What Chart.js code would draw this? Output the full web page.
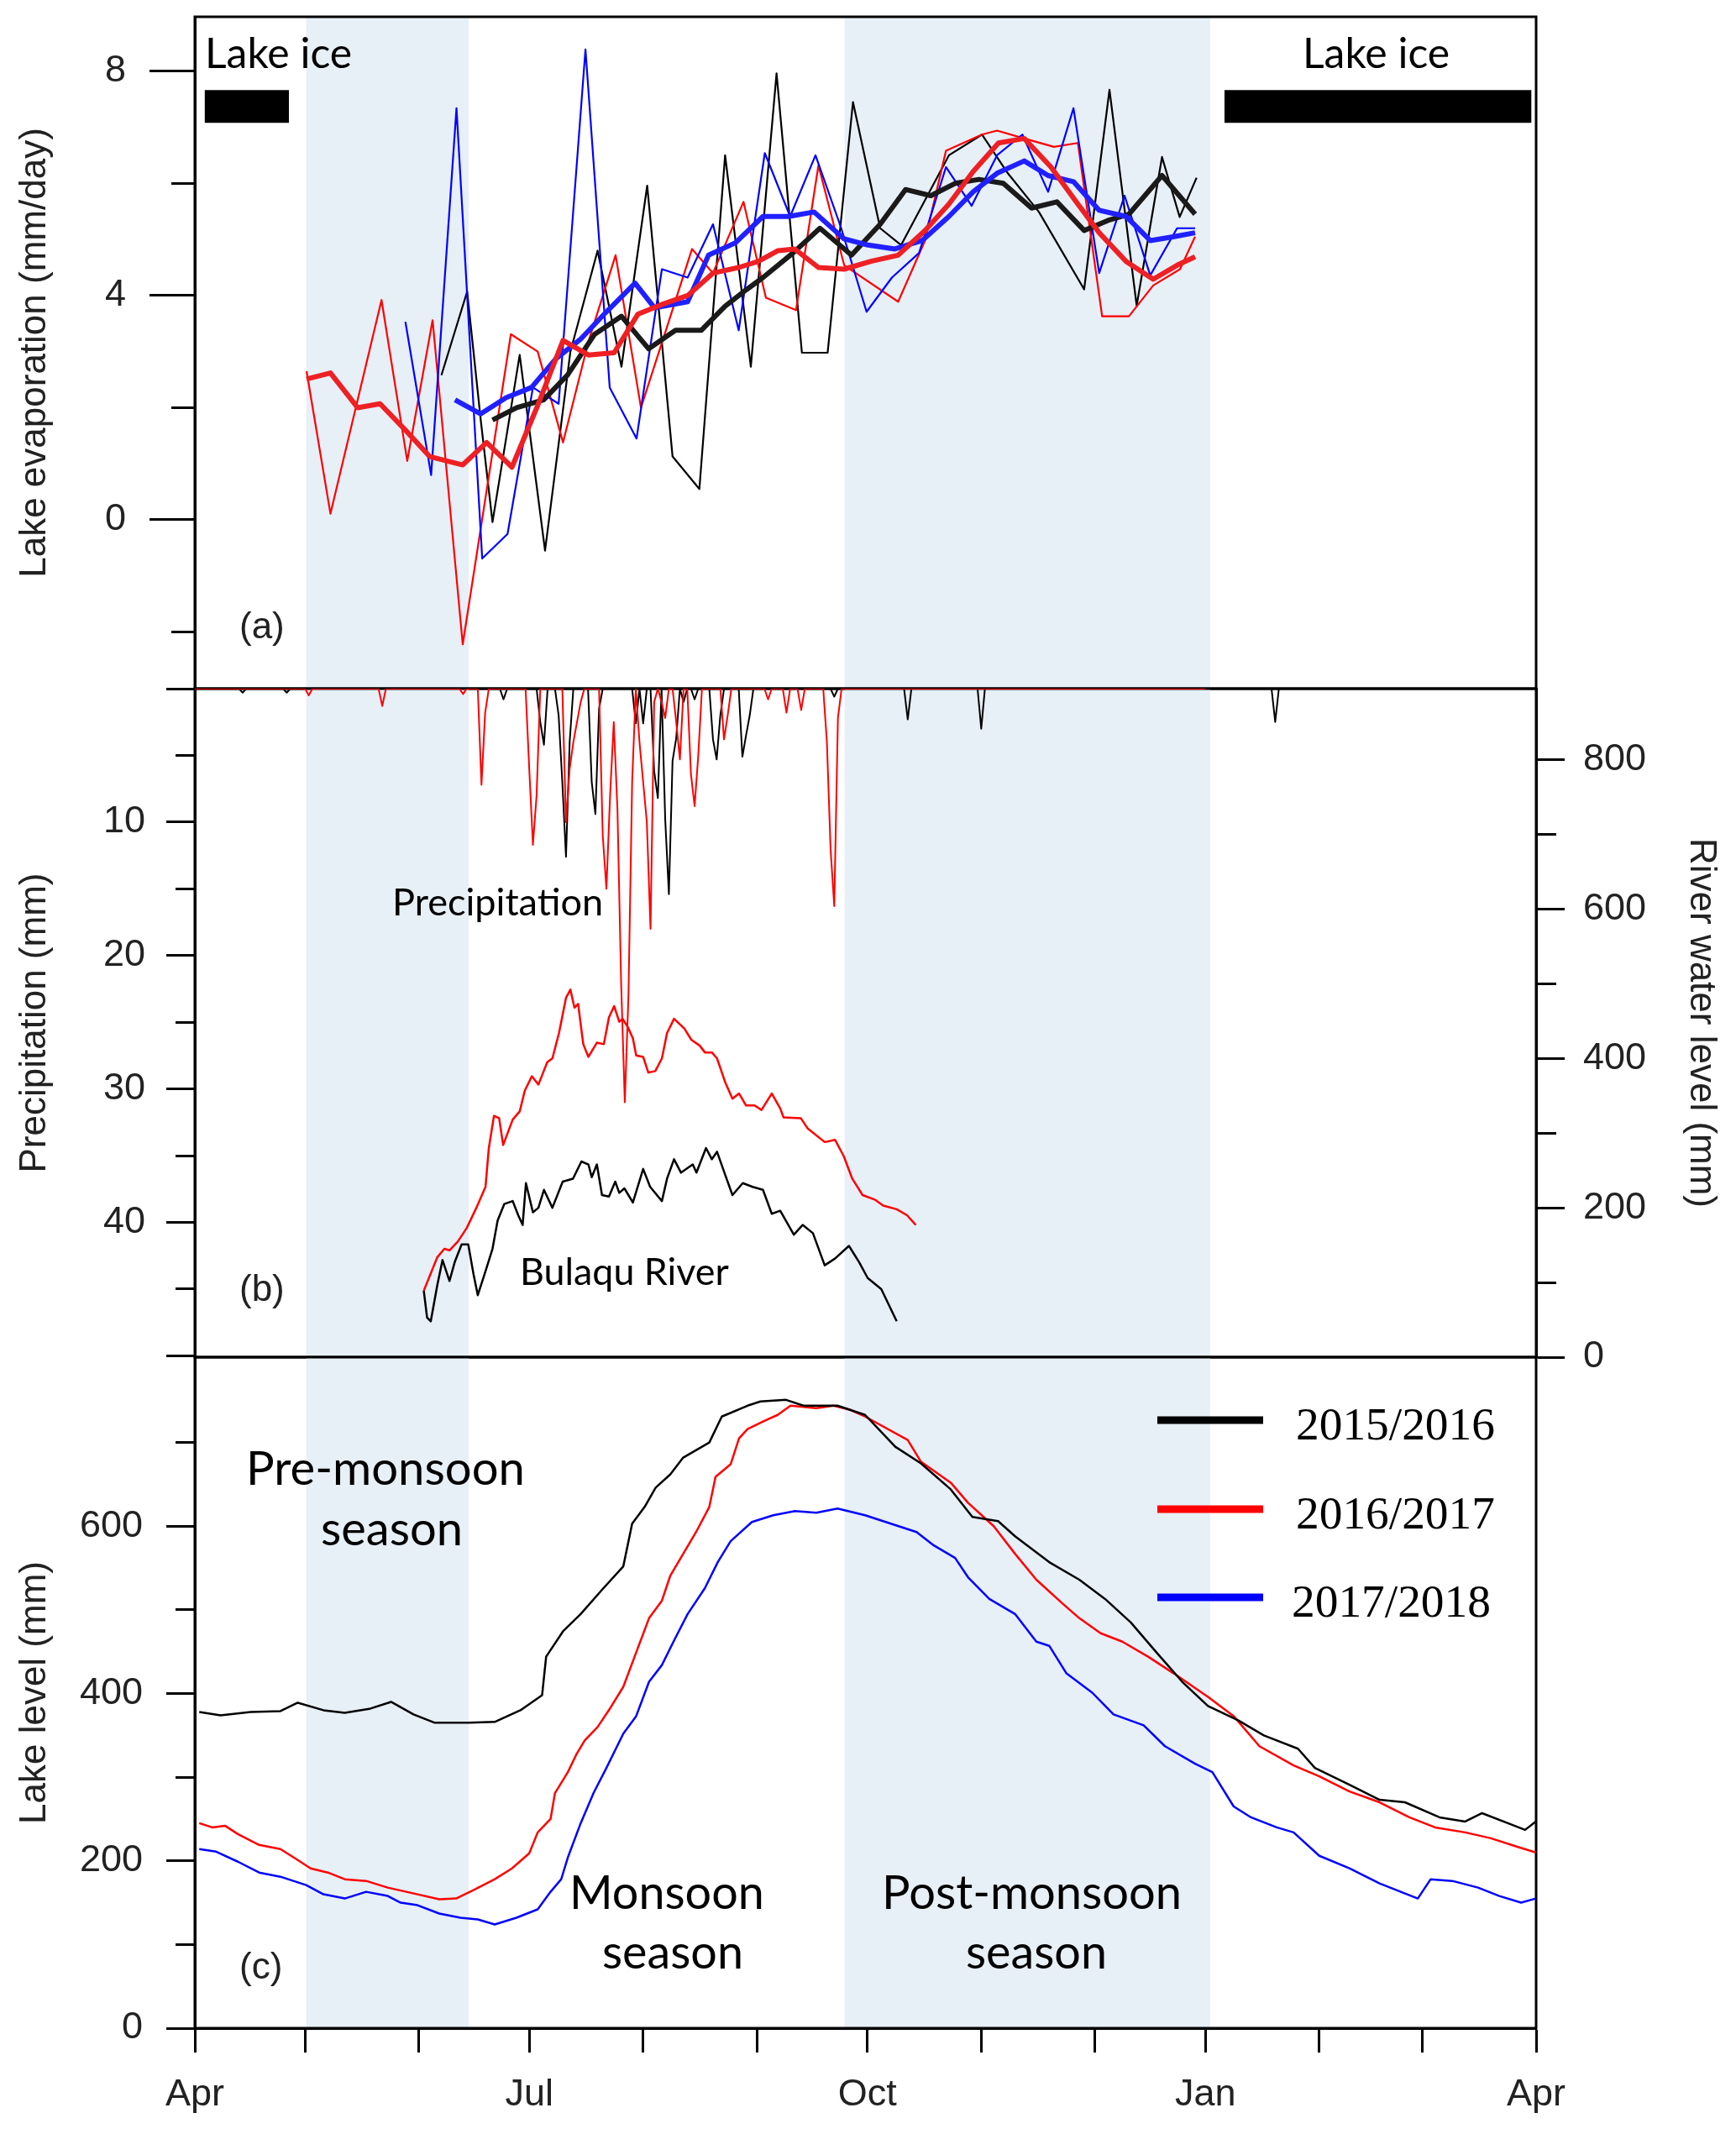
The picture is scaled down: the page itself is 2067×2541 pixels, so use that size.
<!DOCTYPE html>
<html>
<head>
<meta charset="utf-8">
<script src="https://cdn.jsdelivr.net/npm/chart.js@4.4.0/dist/chart.umd.min.js"></script>
<style>
  html, body { margin: 0; padding: 0; background: #fff; }
  #wrap { position: relative; width: 2067px; height: 2541px; }
  #wrap canvas { position: absolute; left: 0; top: 0; }
</style>
</head>
<body>
<div id="wrap">
  <canvas id="evap" width="2067" height="2541"></canvas>
  <canvas id="rain" width="2067" height="2541"></canvas>
  <canvas id="level" width="2067" height="2541"></canvas>
</div>
<script>
// x axis: days since 1 April
const monthTickDays = [0, 30, 61, 91, 122, 153, 183, 214, 245, 275, 306, 334, 365];
const monthTickLabels = ['Apr', '', '', 'Jul', '', '', 'Oct', '', '', 'Jan', '', '', 'Apr'];

// shaded seasons (pre-monsoon, post-monsoon)
const seasonStart = [30.3, 176.8];
const seasonEnd = [74.5, 276.3];

// lake ice bars
const iceStartDays = [2.7, 280.2];
const iceEndDays = [25.6, 363.7];
const iceLevel = 7.37;

// (a) lake evaporation, mm/day
const evapTicks = [-2, 0, 2, 4, 6, 8];
const evapLabels = ['', '0', '', '4', '', '8'];

const thin15Days = [67.1, 74.1, 77.8, 81, 88.4, 95.3, 102.2, 109.6, 116.1, 123.1, 130, 137.3, 144.3, 151.3, 158.3, 165.2, 172.2, 179.1, 186.5, 192.2, 205.2, 214.2, 221, 229.7, 242, 248.9, 256.3, 263.2, 268, 272.6];
const thin15Evap = [2.58, 4.07, 1.78, -0.04, 2.94, -0.55, 3.0, 4.8, 2.73, 5.96, 1.13, 0.55, 6.5, 2.73, 7.96, 2.98, 2.98, 7.45, 5.2, 4.9, 6.5, 6.87, 6.2, 5.49, 4.11, 7.67, 3.82, 6.47, 5.4, 6.1];

const thin16Days = [30.4, 36.9, 50.8, 57.8, 64.7, 72.9, 86, 93.3, 100.2, 107.2, 114.5, 121.4, 128.3, 135.3, 141, 149.3, 155.4, 163.6, 169.7, 176.7, 191.4, 198.7, 204.4, 214.2, 218.3, 225.7, 233.8, 240.3, 246.9, 254.2, 260.8, 268.1, 272.2];
const thin16Evap = [2.65, 0.11, 3.92, 1.05, 3.56, -2.22, 3.31, 3.0, 1.38, 3.2, 4.72, 2.0, 3.4, 4.83, 4.4, 5.67, 3.96, 3.74, 6.32, 4.54, 3.89, 4.98, 6.58, 6.87, 6.94, 6.8, 6.65, 6.72, 3.63, 3.63, 4.18, 4.47, 5.05];

const thin17Days = [57.3, 64.3, 71.2, 78.2, 85.1, 92, 99, 106.3, 112.9, 120.2, 127.1, 134.1, 141, 148, 155.1, 162, 168.9, 175.9, 182.8, 189.7, 197.1, 204.4, 211.4, 218.3, 225.2, 232.2, 239.1, 246.1, 253, 260, 267.3, 272.2];
const thin17Evap = [3.53, 0.8, 7.34, -0.69, -0.25, 2.36, 2.07, 8.39, 2.36, 1.45, 4.47, 4.32, 5.27, 3.38, 6.54, 5.41, 6.5, 5.2, 3.71, 4.32, 4.76, 6.29, 5.6, 6.5, 6.87, 5.85, 7.34, 4.4, 5.78, 4.36, 5.2, 5.2];

const mean15Days = [81, 87.6, 94.9, 101.4, 108.8, 116.1, 123.5, 130.8, 137.8, 144.3, 150, 154.6, 162.8, 170.1, 178.7, 186.5, 193.4, 200.3, 206.9, 213.4, 220, 227.7, 234.6, 242, 248.5, 254.2, 263.2, 272.2];
const mean15Evap = [1.78, 2.0, 2.14, 2.58, 3.31, 3.63, 3.05, 3.38, 3.38, 3.81, 4.1, 4.32, 4.76, 5.2, 4.72, 5.27, 5.89, 5.78, 6.0, 6.07, 6.0, 5.56, 5.67, 5.16, 5.34, 5.45, 6.14, 5.45];

const mean16Days = [30.4, 36.9, 44.3, 50.4, 57.3, 63.9, 72.9, 79.4, 86.3, 93.3, 100.2, 107.1, 114.1, 120.6, 127.5, 134.1, 141, 148, 153.4, 158.7, 163.2, 169.7, 176.7, 184, 191.4, 198.7, 205.2, 211.8, 218.7, 225.7, 233, 239.5, 246.1, 253.4, 260.8, 267.3, 272.2];
const mean16Evap = [2.51, 2.62, 2.0, 2.07, 1.6, 1.13, 0.98, 1.38, 0.94, 2.04, 3.2, 2.94, 2.98, 3.67, 3.85, 4.0, 4.4, 4.5, 4.61, 4.8, 4.83, 4.5, 4.47, 4.61, 4.72, 5.16, 5.63, 6.21, 6.72, 6.8, 6.29, 5.7, 5.12, 4.61, 4.29, 4.54, 4.69];

const mean17Days = [70.8, 77.8, 84.7, 91.6, 98.2, 105.1, 112, 119.8, 125.1, 134.1, 139.8, 147.1, 154.6, 161.6, 168.5, 176.7, 183.2, 190.5, 197.9, 205.2, 211.8, 218.3, 225.7, 232.2, 239.1, 246.1, 253.4, 260, 266.5, 272.2];
const mean17Evap = [2.14, 1.89, 2.18, 2.36, 2.87, 3.23, 3.71, 4.22, 3.78, 3.89, 4.72, 4.94, 5.41, 5.41, 5.49, 5.01, 4.9, 4.83, 4.98, 5.41, 5.85, 6.18, 6.4, 6.14, 6.03, 5.52, 5.41, 4.98, 5.05, 5.12];

// (b) daily precipitation (mm), days without a value are dry
const precipTicks = [0, 5, 10, 15, 20, 25, 30, 35, 40, 45, 50];
const precipLabels = ['', '', '10', '', '20', '', '30', '', '40', '', ''];
const rain15Days = [13, 25, 84, 94, 95, 99, 100, 101, 102, 108, 109, 110, 120, 122, 125, 126, 128, 129, 130, 131, 133, 136, 141, 142, 143, 149, 150, 151, 174, 194, 214, 294];
const rain15Mm = [0.3, 0.3, 0.8, 2.5, 4.2, 2, 7, 12.6, 4, 7, 9.4, 1.5, 2.6, 2.6, 6.2, 8.2, 9.8, 15.4, 5.4, 3.7, 1, 0.8, 3.8, 5.3, 2, 5.1, 3.5, 2, 0.6, 2.3, 3, 2.5];
const rain16Days = [31, 51, 73, 78, 79, 91, 92, 93, 101, 102, 103, 104, 105, 111, 112, 113, 114, 115, 116, 117, 118, 119, 121, 122, 123, 124, 125, 127, 128, 131, 132, 135, 136, 137, 144, 145, 156, 161, 165, 172, 173, 174, 175];
const rain16Mm = [0.5, 1.3, 0.4, 7.2, 1.8, 6, 11.7, 8, 10, 6, 4, 2.5, 1, 11, 15, 8, 2.5, 9, 22, 31, 23, 7, 4, 7, 10, 18, 1, 1, 2.2, 2.5, 5.3, 6.4, 8.8, 5, 3.8, 2, 0.8, 1.8, 1.6, 4, 12, 16.3, 2.2];

// (b) Bulaqu River water level (mm)
const riverTicks = [0, 100, 200, 300, 400, 500, 600, 700, 800];
const riverLabels = ['0', '', '200', '', '400', '', '600', '', '800'];
const river15Days = [62.3, 63.2, 64.2, 66, 67.4, 69.3, 70.7, 72.6, 74.4, 75.8, 77, 79.1, 81, 82.4, 84.2, 86.5, 88, 89.2, 90.1, 92, 93.5, 95, 97.3, 100.1, 102.9, 105.2, 107.1, 108, 109.4, 110.8, 112.7, 114.4, 115.5, 116.9, 119.2, 122, 123.9, 127.1, 128.5, 130.4, 132.3, 135.5, 136.5, 139.1, 140.7, 142.1, 144.4, 146.3, 149.1, 151.8, 154.6, 157, 159.3, 163, 165.4, 168.2, 171.4, 174.2, 178, 180.8, 183.1, 186.8, 191];
const river15Level = [89, 53, 48, 97, 130, 102, 127, 151, 151, 112, 83, 115, 145, 183, 205, 209, 190, 177, 233, 194, 200, 224, 200, 235, 239, 262, 258, 241, 258, 217, 215, 235, 220, 226, 207, 252, 228, 209, 239, 265, 247, 258, 247, 280, 265, 275, 243, 217, 233, 228, 224, 192, 196, 164, 177, 166, 123, 132, 149, 127, 106, 91, 48];
const river16Days = [62.3, 66, 67.9, 69.3, 71.6, 74, 76.8, 79.1, 80, 81.4, 82.8, 83.9, 86.5, 88.4, 89.8, 91.7, 93.5, 95.9, 97.3, 99.1, 101, 102.2, 103.3, 104.3, 105.7, 107.1, 109.4, 111.3, 112.7, 114.1, 115.5, 116.4, 117.8, 119.2, 120.1, 122, 123.4, 125.3, 127.1, 128.5, 130.4, 133.2, 135.1, 137.4, 138.8, 140.7, 142.1, 144.4, 146.3, 148.1, 150, 152.3, 154.2, 157, 159.3, 160.2, 164.9, 166.8, 171.4, 174.2, 176.6, 178.9, 181.7, 185, 187.3, 191, 193.8, 196.2];
const river16Level = [89, 134, 145, 143, 155, 173, 202, 228, 280, 323, 320, 284, 318, 329, 357, 376, 365, 395, 400, 434, 481, 492, 468, 473, 419, 402, 421, 419, 455, 470, 449, 453, 442, 427, 404, 402, 381, 383, 400, 434, 453, 440, 425, 417, 408, 408, 400, 367, 346, 353, 337, 337, 331, 353, 333, 321, 320, 306, 288, 291, 269, 239, 217, 211, 203, 198, 190, 177];

// (c) lake level (mm)
const levelTicks = [0, 100, 200, 300, 400, 500, 600, 700];
const levelLabels = ['0', '', '200', '', '400', '', '600', ''];
const lake15Days = [1.2, 7, 15.2, 23.3, 28, 35, 40.8, 47.8, 53.4, 59.5, 65.3, 74.6, 81.6, 88.6, 94.5, 95.6, 100.3, 105, 110.8, 116.6, 119, 122.4, 125.4, 129.4, 132.9, 140, 143.4, 150.4, 153.9, 160.9, 165.6, 174.9, 182.4, 190.6, 197.6, 205.7, 211.6, 218.6, 223.2, 232.5, 240.7, 247.7, 254.7, 261.7, 268.7, 275.7, 283.9, 290.9, 300.2, 304.8, 314.2, 322.4, 329.3, 338.7, 345.7, 350.3, 357.3, 362, 364.9];
const lake15Level = [378, 374, 378, 379, 389, 380, 377, 382, 390, 375, 365, 365, 366, 380, 398, 444, 475, 495, 524, 552, 603, 623, 646, 662, 682, 700, 731, 744, 749, 751, 744, 744, 733, 695, 675, 644, 611, 606, 588, 557, 536, 513, 485, 449, 414, 385, 368, 350, 334, 311, 291, 273, 270, 252, 247, 257, 245, 237, 247];
const lake16Days = [1.2, 4.7, 8.2, 11.7, 17.5, 23.3, 28, 31.5, 36.2, 40.8, 46.6, 52.5, 60.6, 66.5, 71.1, 75.8, 81.6, 86.3, 91, 93.3, 96.8, 98, 101.5, 103.8, 106.1, 109.6, 113.1, 116.6, 120.1, 123.6, 127.1, 129.4, 132.9, 136.4, 140, 141.7, 145.8, 148.1, 150.4, 155.1, 158.6, 162.1, 169.1, 173.8, 178.4, 182.4, 194, 197.6, 205.7, 210.4, 217.4, 223.2, 229, 236, 240.7, 246.5, 252.4, 259.4, 266.4, 275.7, 282.7, 289.7, 299, 306, 314.2, 322.4, 330.5, 337.5, 345.7, 352.7, 359.7, 364.9];
const lake16Level = [245, 240, 242, 232, 219, 214, 201, 191, 186, 178, 176, 168, 160, 154, 155, 165, 178, 191, 209, 234, 250, 281, 306, 327, 344, 360, 383, 408, 449, 490, 511, 541, 567, 593, 623, 659, 674, 705, 716, 726, 733, 744, 741, 744, 739, 731, 703, 677, 652, 628, 600, 567, 536, 508, 490, 472, 462, 444, 424, 396, 373, 337, 314, 301, 283, 270, 252, 240, 234, 227, 217, 210];
const lake17Days = [1.2, 5.8, 11.7, 17.5, 23.3, 30.3, 35, 40.8, 46.6, 52.5, 56, 60.6, 66.5, 72.3, 77, 81.6, 87.5, 93.3, 96.8, 99.7, 101.5, 105, 108.5, 112, 116.6, 120.1, 123.6, 127.1, 130.6, 134.1, 138.8, 142.3, 145.8, 151.6, 157.4, 163.3, 169.1, 174.9, 182.4, 189.4, 196.4, 201.1, 206.9, 210.4, 216.2, 223.2, 229, 232.5, 237.2, 244.2, 250, 258.2, 264, 272.2, 276.9, 282.7, 287.4, 294.4, 299, 306, 314.2, 322.4, 332.8, 336.3, 342.2, 349.2, 355, 360.9, 364.9];
const lake17Level = [214, 211, 199, 186, 181, 171, 160, 155, 163, 158, 150, 147, 137, 132, 130, 124, 132, 142, 163, 178, 204, 245, 281, 311, 352, 373, 414, 434, 465, 495, 526, 557, 582, 605, 613, 618, 616, 621, 613, 603, 593, 577, 562, 539, 513, 495, 462, 457, 424, 401, 375, 362, 337, 316, 306, 265, 252, 240, 234, 206, 191, 173, 155, 178, 176, 168, 158, 150, 155];

const seriesNames = ['2015/2016', '2016/2017', '2017/2018'];

// ---------- helpers ----------
const W = 2067, H = 2541;
const PLOT_LEFT = 232, PLOT_RIGHT = 1829;
const SANS = "'Liberation Sans', Arial, sans-serif";
const TEXT = '#222';

Chart.defaults.font.family = SANS;
Chart.defaults.color = TEXT;

const pairs = (xs, ys) => xs.map((x, i) => ({ x, y: ys[i] }));

function dailySeries(days, mm, lastDay) {
  const out = [];
  for (let d = 0; d <= lastDay; d++) {
    const i = days.indexOf(d);
    out.push({ x: d, y: i >= 0 ? mm[i] : 0 });
  }
  return out;
}

function line(data, color, width, extra) {
  return Object.assign({
    data, borderColor: color, borderWidth: width, pointRadius: 0,
    tension: 0, fill: false, borderJoinStyle: 'round'
  }, extra || {});
}

// y axis with long ticks on labelled values and short ones between
function yAxis(o) {
  const outerFirst = o.position === 'left';
  return {
    type: 'linear', position: o.position, min: o.min, max: o.max, reverse: !!o.reverse,
    afterBuildTicks: s => { s.ticks = o.ticks.map(v => ({ value: v })); },
    afterFit: s => { s.width = o.width; s.paddingTop = 0; s.paddingBottom = 0; },
    border: { display: true, color: '#000', width: 3 },
    grid: {
      drawOnChartArea: false, tickLength: o.major, tickWidth: 3, tickColor: '#000',
      tickBorderDash: c => {
        if (!c.tick || o.isMajor(c.tick.value)) return [];
        return outerFirst ? [0, o.major - o.minor, o.minor, 3000] : [o.minor, 3000];
      }
    },
    ticks: {
      autoSkip: false, padding: o.pad, color: TEXT, font: { size: 45 },
      callback: v => o.labels[o.ticks.indexOf(v)]
    },
    title: {
      display: true, text: o.title, color: TEXT, font: { size: 44 },
      padding: { top: 15, bottom: 0 }
    }
  };
}

const hiddenX = { type: 'linear', min: 0, max: 365, display: false };

const shadePlugin = {
  id: 'shade',
  beforeDraw(chart) {
    const { ctx, chartArea: a, scales: { x } } = chart;
    ctx.save();
    ctx.fillStyle = '#e7eff7';
    seasonStart.forEach((s, i) => {
      const x0 = x.getPixelForValue(s), x1 = x.getPixelForValue(seasonEnd[i]);
      ctx.fillRect(x0, a.top, x1 - x0, a.bottom - a.top);
    });
    ctx.restore();
  }
};

const framePlugin = {
  id: 'frame',
  beforeDatasetsDraw(chart) {
    const { ctx, chartArea: a } = chart;
    ctx.save();
    ctx.strokeStyle = '#000';
    ctx.lineWidth = 3;
    ctx.strokeRect(a.left, a.top, a.right - a.left, a.bottom - a.top);
    ctx.restore();
  }
};

function drawFitted(ctx, t) {
  ctx.save();
  ctx.font = '100px ' + t.family;
  const size = 100 * t.w / ctx.measureText(t.text).width;
  ctx.font = size.toFixed(1) + 'px ' + t.family;
  ctx.fillStyle = t.color || '#000';
  ctx.textAlign = 'left';
  ctx.textBaseline = 'alphabetic';
  ctx.fillText(t.text, t.x, t.y);
  ctx.restore();
}

function drawPlain(ctx, text, x, y) {
  ctx.save();
  ctx.font = '44px ' + SANS;
  ctx.fillStyle = TEXT;
  ctx.textAlign = 'left';
  ctx.textBaseline = 'alphabetic';
  ctx.fillText(text, x, y);
  ctx.restore();
}

const NOTE = "Lato, 'Open Sans', sans-serif";
const SERIF = "'Liberation Serif', 'Times New Roman', serif";

// ---------- (a) lake evaporation ----------
const iceDatasets = iceStartDays.map((s, i) => line(
  [{ x: s, y: iceLevel }, { x: iceEndDays[i], y: iceLevel }], '#000', 39, { borderCapStyle: 'butt' }));

new Chart(document.getElementById('evap'), {
  type: 'line',
  data: {
    datasets: [
      ...iceDatasets,
      line(pairs(mean16Days, mean16Evap), '#ee2024', 6),
      line(pairs(mean17Days, mean17Evap), '#2020ff', 6),
      line(pairs(mean15Days, mean15Evap), '#1a1a1a', 6),
      line(pairs(thin17Days, thin17Evap), '#0000ff', 2.2),
      line(pairs(thin16Days, thin16Evap), '#ff0000', 2.2),
      line(pairs(thin15Days, thin15Evap), '#000000', 2.2)
    ]
  },
  options: {
    responsive: false, animation: false, devicePixelRatio: 1,
    layout: { padding: { left: 0, right: W - PLOT_RIGHT, top: 20, bottom: H - 820 } },
    plugins: { legend: { display: false }, tooltip: { enabled: false } },
    scales: {
      x: hiddenX,
      y: yAxis({
        position: 'left', min: -3.01, max: 8.97, ticks: evapTicks, labels: evapLabels,
        isMajor: v => v % 4 === 0, major: 54, minor: 28, pad: 28, width: PLOT_LEFT,
        title: 'Lake evaporation (mm/day)'
      })
    }
  },
  plugins: [shadePlugin, framePlugin, {
    id: 'notesA',
    afterDraw(chart) {
      const ctx = chart.ctx;
      drawFitted(ctx, { text: 'Lake ice', x: 244, y: 81, w: 175, family: NOTE });
      drawFitted(ctx, { text: 'Lake ice', x: 1551, y: 81, w: 175, family: NOTE });
      drawPlain(ctx, '(a)', 285, 760);
    }
  }]
});

// ---------- (b) precipitation and river level ----------
new Chart(document.getElementById('rain'), {
  type: 'line',
  data: {
    datasets: [
      line(dailySeries(rain16Days, rain16Mm, 275), '#ff0000', 2, { yAxisID: 'yP' }),
      line(dailySeries(rain15Days, rain15Mm, 365), '#000000', 2, { yAxisID: 'yP' }),
      line(pairs(river16Days, river16Level), '#ff0000', 2.5, { yAxisID: 'yR' }),
      line(pairs(river15Days, river15Level), '#000000', 2.5, { yAxisID: 'yR' })
    ]
  },
  options: {
    responsive: false, animation: false, devicePixelRatio: 1,
    layout: { padding: { left: 0, right: 0, top: 820, bottom: H - 1616 } },
    plugins: { legend: { display: false }, tooltip: { enabled: false } },
    scales: {
      x: hiddenX,
      yP: yAxis({
        position: 'left', reverse: true, min: 0, max: 50.1, ticks: precipTicks, labels: precipLabels,
        isMajor: v => v % 10 === 0, major: 34, minor: 23, pad: 25, width: PLOT_LEFT,
        title: 'Precipitation (mm)'
      }),
      yR: yAxis({
        position: 'right', min: 0, max: 895, ticks: riverTicks, labels: riverLabels,
        isMajor: v => v % 200 === 0, major: 34, minor: 22, pad: 22, width: W - PLOT_RIGHT,
        title: 'River water level (mm)'
      })
    }
  },
  plugins: [shadePlugin, framePlugin, {
    id: 'notesB',
    afterDraw(chart) {
      const ctx = chart.ctx;
      drawFitted(ctx, { text: 'Precipitation', x: 467, y: 1090, w: 251, family: NOTE });
      drawFitted(ctx, { text: 'Bulaqu River', x: 619, y: 1530, w: 249, family: NOTE });
      drawPlain(ctx, '(b)', 285, 1549);
    }
  }]
});

// ---------- (c) lake level ----------
const levelColors = ['#000000', '#ff0000', '#0000ff'];

new Chart(document.getElementById('level'), {
  type: 'line',
  data: {
    datasets: [
      line(pairs(lake15Days, lake15Level), levelColors[0], 2.5),
      line(pairs(lake16Days, lake16Level), levelColors[1], 2.5),
      line(pairs(lake17Days, lake17Level), levelColors[2], 2.5)
    ]
  },
  options: {
    responsive: false, animation: false, devicePixelRatio: 1,
    layout: { padding: { left: 0, right: W - PLOT_RIGHT, top: 1616, bottom: 0 } },
    plugins: { legend: { display: false }, tooltip: { enabled: false } },
    scales: {
      x: {
        type: 'linear', position: 'bottom', min: 0, max: 365,
        afterBuildTicks: s => { s.ticks = monthTickDays.map(v => ({ value: v })); },
        afterFit: s => { s.height = H - 2415; s.paddingLeft = 0; s.paddingRight = 0; },
        border: { display: true, color: '#000', width: 3 },
        grid: { drawOnChartArea: false, tickLength: 29, tickWidth: 3, tickColor: '#000' },
        ticks: {
          autoSkip: false, maxRotation: 0, padding: 24, color: TEXT, font: { size: 45 },
          callback: v => monthTickLabels[monthTickDays.indexOf(v)]
        }
      },
      y: yAxis({
        position: 'left', min: 0, max: 802, ticks: levelTicks, labels: levelLabels,
        isMajor: v => v % 200 === 0, major: 34, minor: 23, pad: 28, width: PLOT_LEFT,
        title: 'Lake level (mm)'
      })
    }
  },
  plugins: [shadePlugin, framePlugin, {
    id: 'notesC',
    afterDraw(chart) {
      const ctx = chart.ctx;
      drawFitted(ctx, { text: 'Pre-monsoon', x: 293, y: 1768, w: 332, family: NOTE });
      drawFitted(ctx, { text: 'season', x: 382, y: 1840, w: 169, family: NOTE });
      drawFitted(ctx, { text: 'Monsoon', x: 678, y: 2273, w: 232, family: NOTE });
      drawFitted(ctx, { text: 'season', x: 717, y: 2344, w: 168, family: NOTE });
      drawFitted(ctx, { text: 'Post-monsoon', x: 1050, y: 2273, w: 357, family: NOTE });
      drawFitted(ctx, { text: 'season', x: 1150, y: 2344, w: 168, family: NOTE });
      drawPlain(ctx, '(c)', 285, 2356);

      // legend
      const rows = [1691, 1797, 1902];
      seriesNames.forEach((name, i) => {
        ctx.save();
        ctx.strokeStyle = levelColors[i];
        ctx.lineWidth = 9;
        ctx.beginPath();
        ctx.moveTo(1378, rows[i]);
        ctx.lineTo(1504, rows[i]);
        ctx.stroke();
        ctx.restore();
        drawFitted(ctx, { text: name, x: i === 2 ? 1538 : 1543, y: rows[i] + 23, w: 237, family: SERIF });
      });
    }
  }]
});
</script>
</body>
</html>
